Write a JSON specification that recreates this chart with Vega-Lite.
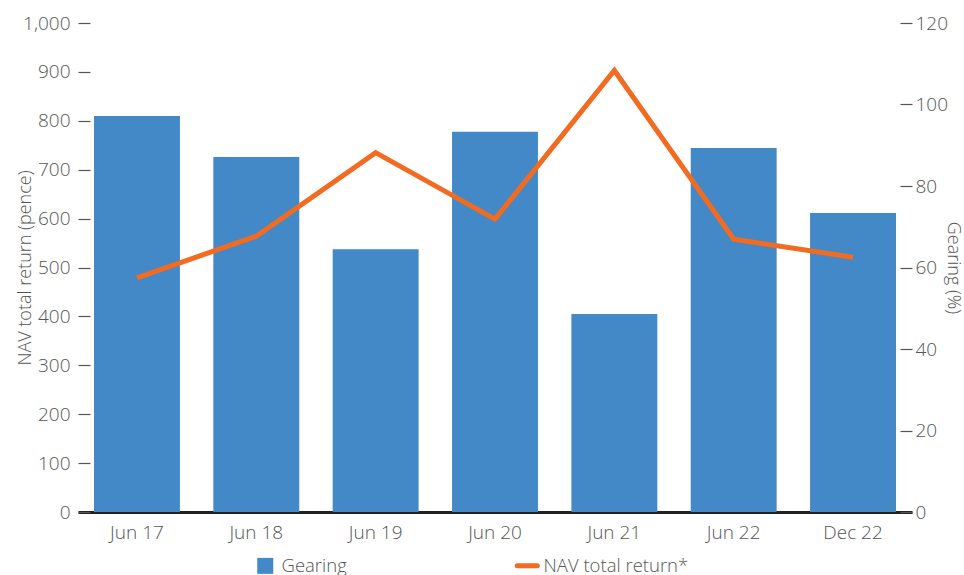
{
  "$schema": "https://vega.github.io/schema/vega-lite/v6.json",
  "width": 834,
  "height": 489,
  "autosize": {"type": "none"},
  "padding": {"left": 78, "top": 23, "right": 52, "bottom": 63},
  "config": {
    "view": {"stroke": null},
    "font": "Open Sans",
    "axis": {"labelFont": "Open Sans", "titleFont": "Open Sans", "labelFontSize": 19, "titleFontSize": 18, "labelFontWeight": 300, "titleFontWeight": 300, "labelColor": "#555555", "titleColor": "#555555", "grid": false},
    "legend": {"labelFont": "Open Sans", "labelFontSize": 18.5, "labelFontWeight": 300, "labelColor": "#555555"}
  },
  "data": {"values": [
    {"period": "Jun 17", "nav": 479, "gearing": 97.2},
    {"period": "Jun 18", "nav": 564, "gearing": 87.1},
    {"period": "Jun 19", "nav": 735, "gearing": 64.5},
    {"period": "Jun 20", "nav": 599, "gearing": 93.3},
    {"period": "Jun 21", "nav": 903, "gearing": 48.6},
    {"period": "Jun 22", "nav": 558, "gearing": 89.3},
    {"period": "Dec 22", "nav": 521, "gearing": 73.4}
  ]},
  "encoding": {
    "x": {
      "field": "period", "type": "nominal", "sort": null,
      "scale": {"paddingInner": 0.28, "paddingOuter": 0.134},
      "axis": {"title": null, "labelAngle": 0, "ticks": false, "domainColor": "#222222", "domainWidth": 3, "labelPadding": 11}
    }
  },
  "layer": [
    {
      "mark": {"type": "bar"},
      "transform": [{"calculate": "'Gearing'", "as": "series"}],
      "encoding": {
        "y": {
          "field": "gearing", "type": "quantitative",
          "scale": {"domain": [0, 120]},
          "axis": {"orient": "right", "title": "Gearing (%)", "values": [0, 20, 40, 60, 80, 100, 120], "domain": false, "tickSize": -12, "tickColor": "#555555", "tickWidth": 1.2, "labelPadding": 15, "titlePadding": -4}
        },
        "color": {
          "field": "series", "type": "nominal",
          "scale": {"domain": ["Gearing", "NAV total return*"], "range": ["#4389c7", "#f26b21"]},
          "legend": {
            "title": null, "orient": "none", "legendX": 178, "legendY": 533, "direction": "horizontal",
            "columnPadding": 160, "symbolSize": 256, "labelOffset": 7,
            "encode": {"symbols": {"update": {
              "shape": {"signal": "datum.value === 'Gearing' ? 'square' : 'M-1.25,0H1.25'"},
              "fill": {"signal": "datum.value === 'Gearing' ? '#4389c7' : 'transparent'"},
              "stroke": {"signal": "datum.value === 'Gearing' ? 'transparent' : '#f26b21'"},
              "strokeWidth": {"signal": "datum.value === 'Gearing' ? 0 : 5"},
              "strokeCap": {"value": "round"},
              "opacity": {"value": 1}
            }}}
          }
        }
      }
    },
    {
      "mark": {"type": "line", "strokeWidth": 5},
      "transform": [{"calculate": "'NAV total return*'", "as": "series"}],
      "encoding": {
        "y": {
          "field": "nav", "type": "quantitative",
          "scale": {"domain": [0, 1000]},
          "axis": {"orient": "left", "title": "NAV total return (pence)", "values": [0, 100, 200, 300, 400, 500, 600, 700, 800, 900, 1000], "format": ",d", "domain": false, "tickSize": -12, "tickColor": "#555555", "tickWidth": 1.2, "labelPadding": 20, "titlePadding": -12}
        },
        "color": {"field": "series", "type": "nominal"}
      }
    }
  ],
  "resolve": {"scale": {"y": "independent"}}
}
